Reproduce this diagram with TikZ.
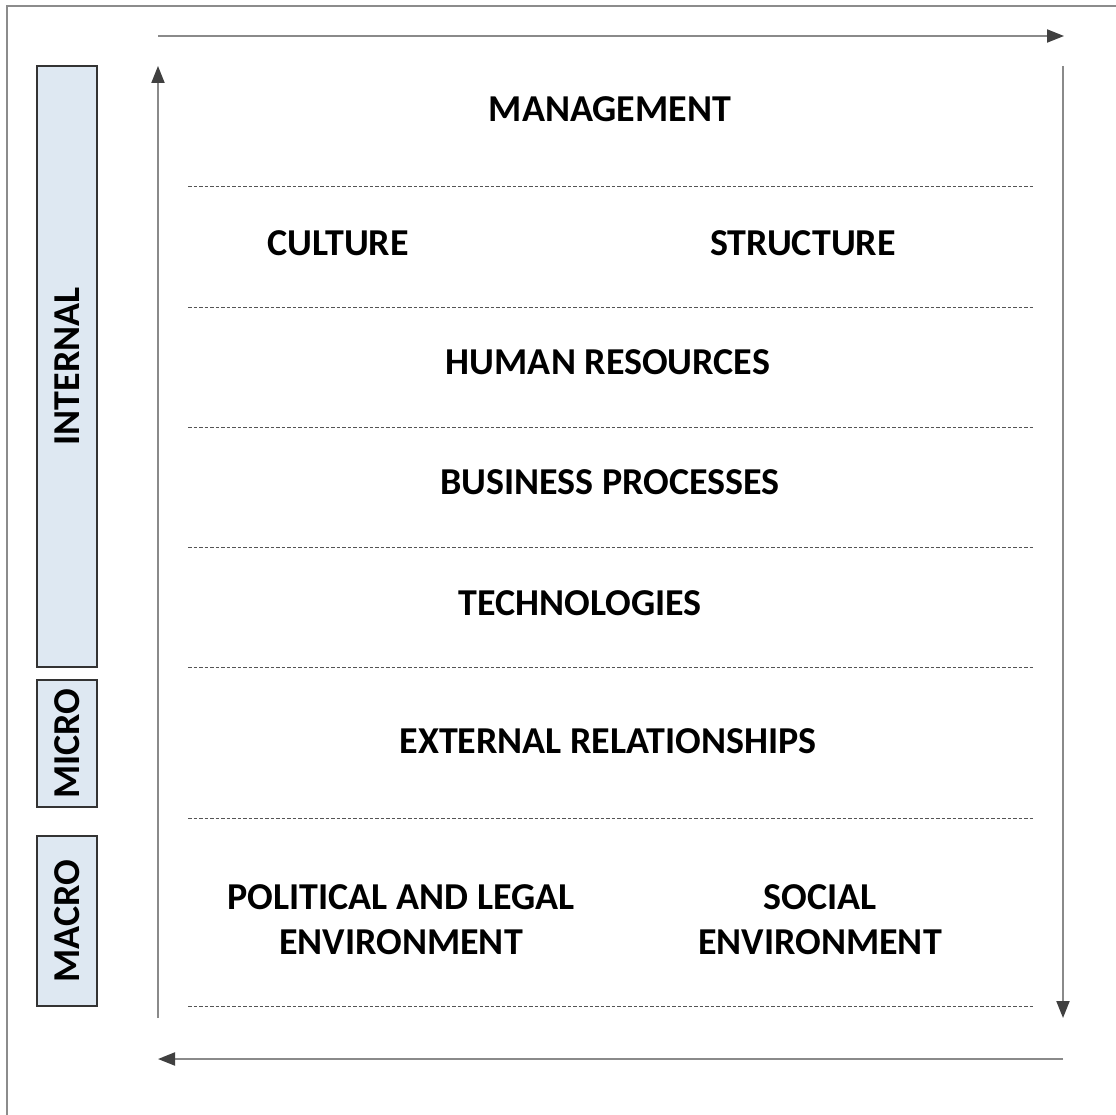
\documentclass[tikz,border=0pt]{standalone}
\usepackage{fontspec}
\setmainfont{Carlito}
\usetikzlibrary{arrows.meta}
\definecolor{framegray}{HTML}{8C8C8C}
\definecolor{arrgray}{HTML}{8A8A8A}
\definecolor{tipgray}{HTML}{404040}
\definecolor{boxfill}{HTML}{DEE8F2}
\definecolor{dashgray}{HTML}{555555}
\tikzset{
  lbl/.style={font=\fontsize{38}{45}\selectfont\bfseries, align=center, inner sep=0pt},
  sidebox/.style={draw=black!80, line width=1.3pt, fill=boxfill},
  sidelbl/.style={font=\fontsize{38}{45}\selectfont\bfseries, rotate=90, inner sep=0pt},
  flow/.style={draw=arrgray, line width=2pt, -{Triangle[length=17pt,width=13pt,fill=tipgray,color=tipgray]}},
  sep/.style={draw=dashgray, line width=0.8pt, dash pattern=on 3.5pt off 2pt},
}
\begin{document}
\begin{tikzpicture}[x=1pt,y=-1pt]
\useasboundingbox (0,0) rectangle (1116,1115);
\fill[white] (0,0) rectangle (1116,1115);
% outer frame
\draw[framegray, line width=2pt] (7,1116) -- (7,6) -- (1117,6);
% side boxes
\node[sidebox, minimum width=60pt, minimum height=601pt, inner sep=0pt] (internalbox) at (67,366.5) {};
\node[sidelbl] (internal) at (internalbox.center) {INTERNAL};
\node[sidebox, minimum width=60pt, minimum height=127pt, inner sep=0pt] (microbox) at (67,743.5) {};
\node[sidelbl] (micro) at (microbox.center) {MICRO};
\node[sidebox, minimum width=60pt, minimum height=170pt, inner sep=0pt] (macrobox) at (67,921) {};
\node[sidelbl] (macro) at (macrobox.center) {MACRO};
% arrows around
\coordinate (topstart) at (158,36);
\coordinate (topend) at (1064,36);
\coordinate (rightstart) at (1063,66);
\coordinate (rightend) at (1063,1018);
\coordinate (botstart) at (1063,1059);
\coordinate (botend) at (158,1059);
\coordinate (leftstart) at (158,1018);
\coordinate (leftend) at (158,66);
\draw[flow] (topstart) -- (topend);
\draw[flow] (rightstart) -- (rightend);
\draw[flow] (botstart) -- (botend);
\draw[flow] (leftstart) -- (leftend);
% separators
\foreach \y [count=\i] in {186,307,427,547,667,818,1006} {
  \coordinate (sl\i) at (188,\y);
  \coordinate (sr\i) at (1033,\y);
  \draw[sep] (sl\i) -- (sr\i);
}
% labels
\node[lbl] (management) at (610,109) {MANAGEMENT};
\node[lbl] (culture) at (338,243) {CULTURE};
\node[lbl] (structure) at (803,243) {STRUCTURE};
\node[lbl] (hr) at (608,362) {HUMAN RESOURCES};
\node[lbl] (bp) at (610,482) {BUSINESS PROCESSES};
\node[lbl] (tech) at (580,603) {TECHNOLOGIES};
\node[lbl] (ext) at (608,741) {EXTERNAL RELATIONSHIPS};
\node[lbl] (pol) at (401,920) {POLITICAL AND LEGAL\\ENVIRONMENT};
\node[lbl] (soc) at (820,920) {SOCIAL\\ENVIRONMENT};
\end{tikzpicture}
\end{document}
